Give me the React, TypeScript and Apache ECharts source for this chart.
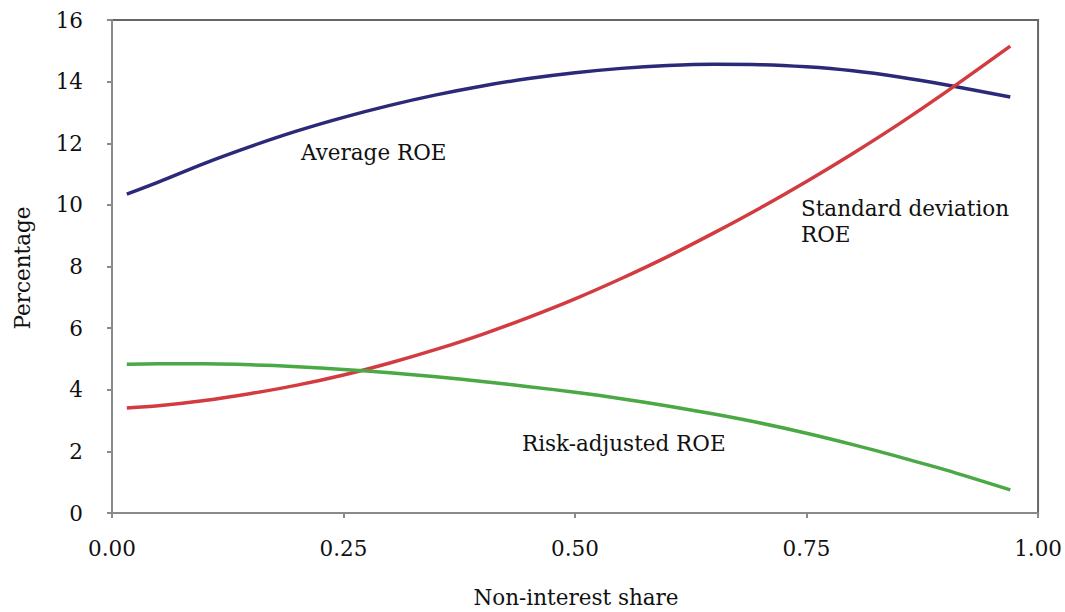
import React, { useEffect, useRef } from "react";
import * as echarts from "echarts";

const shares = [0.016, 0.05, 0.1, 0.15, 0.2, 0.25, 0.3, 0.35, 0.4, 0.45, 0.5, 0.55, 0.6, 0.65, 0.7, 0.75, 0.8, 0.85, 0.9, 0.97];
const averageROE = [10.35, 10.74, 11.35, 11.9, 12.4, 12.84, 13.23, 13.57, 13.86, 14.1, 14.29, 14.43, 14.52, 14.56, 14.55, 14.48, 14.35, 14.15, 13.9, 13.5];
const stdDevROE = [3.41, 3.48, 3.65, 3.88, 4.15, 4.48, 4.87, 5.31, 5.8, 6.35, 6.95, 7.61, 8.32, 9.09, 9.9, 10.76, 11.67, 12.63, 13.65, 15.15];
const riskAdjROE = [4.83, 4.84, 4.84, 4.81, 4.75, 4.66, 4.55, 4.42, 4.27, 4.1, 3.92, 3.71, 3.47, 3.21, 2.92, 2.59, 2.22, 1.82, 1.4, 0.75];

const xTicks = [0, 0.25, 0.5, 0.75, 1];
const FONT = "DejaVu Serif";
const FS = 21.5;

export default function App() {
  const ref = useRef<HTMLDivElement>(null);
  useEffect(() => {
    document.body.style.margin = "0";
    const chart = echarts.init(ref.current!, null, { renderer: "svg" });
    const pairs = (ys: number[]) => shares.map((x, i) => [x, ys[i]]);
    const txt = (text: string, x: number, y: number, extra: any = {}) => ({
      type: "text",
      x,
      y,
      ...extra,
      style: {
        text,
        fontFamily: FONT,
        fontSize: FS,
        fill: "#111111",
        verticalAlign: "middle",
        ...(extra.style || {}),
      },
    });
    chart.setOption({
      animation: false,
      backgroundColor: "#ffffff",
      textStyle: { fontFamily: FONT },
      grid: {
        left: 112,
        right: 21,
        top: 20,
        bottom: 99,
        show: true,
        borderColor: "#666666",
        borderWidth: 2,
        backgroundColor: "#ffffff",
      },
      xAxis: {
        type: "value",
        min: xTicks[0],
        max: xTicks[xTicks.length - 1],
        interval: 0.25,
        axisLine: { show: true, lineStyle: { color: "#8a8a8a", width: 2 } },
        axisTick: { show: true, length: 5, lineStyle: { color: "#8a8a8a", width: 2 } },
        splitLine: { show: false },
        axisLabel: {
          margin: 24,
          color: "#111111",
          fontFamily: FONT,
          fontSize: FS,
          formatter: (v: number) => v.toFixed(2),
        },
      },
      yAxis: {
        type: "value",
        min: 0,
        max: 16,
        interval: 2,
        axisLine: { show: true, lineStyle: { color: "#8a8a8a", width: 2 } },
        axisTick: { show: true, length: 5, lineStyle: { color: "#8a8a8a", width: 2 } },
        splitLine: { show: false },
        axisLabel: {
          margin: 29,
          color: "#111111",
          fontFamily: FONT,
          fontSize: FS,
        },
      },
      series: [
        { name: "Average ROE", type: "line", smooth: 0.3, showSymbol: false, data: pairs(averageROE), lineStyle: { color: "#2b2a78", width: 3.5 } },
        { name: "Standard deviation ROE", type: "line", smooth: 0.3, showSymbol: false, data: pairs(stdDevROE), lineStyle: { color: "#d23c40", width: 3.5 } },
        { name: "Risk-adjusted ROE", type: "line", smooth: 0.3, showSymbol: false, data: pairs(riskAdjROE), lineStyle: { color: "#4aa845", width: 3.5 } },
      ],
      graphic: [
        txt("Average ROE", 301, 152),
        txt("Standard deviation", 801, 208),
        txt("ROE", 801, 234),
        txt("Risk-adjusted ROE", 522, 443),
        txt("Non-interest share", 576, 597, { style: { align: "center" } }),
        txt("Percentage", 22, 268, { rotation: Math.PI / 2, style: { align: "center" } }),
      ],
    });
    return () => chart.dispose();
  }, []);
  return <div ref={ref} style={{ position: "fixed", left: 0, top: 0, width: 1065, height: 612 }} />;
}
